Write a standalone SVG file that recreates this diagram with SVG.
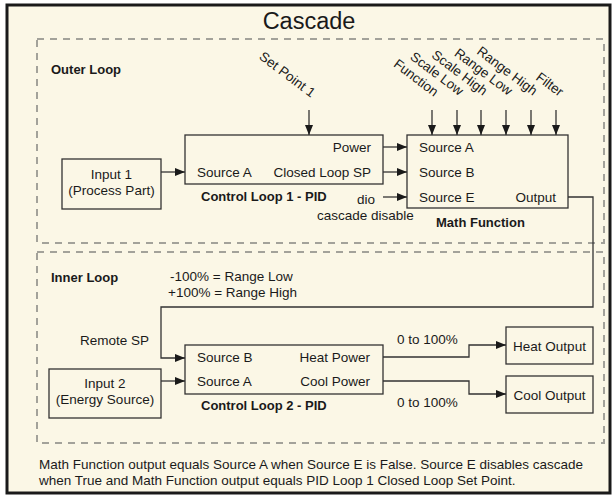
<svg xmlns="http://www.w3.org/2000/svg" width="613" height="496" viewBox="0 0 613 496">
  <style>
    text { font-family: "Liberation Sans", Arial, sans-serif; font-size: 13.5px; fill: #1a1a1a; }
    .title { font-size: 23.5px; }
    .bold { font-weight: bold; font-size: 13px; }
    .end { text-anchor: end; }
    .mid { text-anchor: middle; }
    .box { fill: #FBF7E6; stroke: #333; stroke-width: 1.3; }
    .loop { fill: none; stroke: #A3A29A; stroke-width: 2; stroke-dasharray: 7 6; }
    .wire { fill: none; stroke: #333; stroke-width: 1.3; }
  </style>
  <defs>
    <marker id="arrow" markerUnits="userSpaceOnUse" markerWidth="10" markerHeight="8" refX="10" refY="4" orient="auto">
      <path d="M0,0 L10,4 L0,8 Z" fill="#1a1a1a"/>
    </marker>
  </defs>

  <!-- page and frame -->
  <rect x="0" y="0" width="613" height="496" fill="#ffffff"/>
  <rect x="7" y="5" width="603" height="488" fill="#FBF7E6" stroke="#1a1a1a" stroke-width="3"/>
  <text class="title mid" x="309" y="29">Cascade</text>

  <!-- loop regions -->
  <g id="outer-loop">
    <rect class="loop" x="37" y="39" width="567" height="204"/>
    <text class="bold" x="51" y="74">Outer Loop</text>
  </g>
  <g id="inner-loop">
    <rect class="loop" x="37" y="252" width="567" height="191"/>
    <text class="bold" x="51" y="282">Inner Loop</text>
    <text x="170" y="281">-100% = Range Low</text>
    <text x="168" y="297">+100% = Range High</text>
  </g>

  <!-- inputs to the loops -->
  <g id="set-point-1">
    <text class="end" transform="translate(311,98) rotate(37)">Set Point 1</text>
  </g>
  <g id="math-parameters">
    <text class="end" transform="translate(434,97) rotate(37)">Function</text>
    <text class="end" transform="translate(459,96) rotate(37)">Scale Low</text>
    <text class="end" transform="translate(483,96) rotate(37)">Scale High</text>
    <text class="end" transform="translate(508,96) rotate(37)">Range Low</text>
    <text class="end" transform="translate(533,96) rotate(37)">Range High</text>
    <text class="end" transform="translate(559,97) rotate(37)">Filter</text>
  </g>

  <!-- nodes -->
  <g id="input-1">
    <rect class="box" x="62" y="159" width="99" height="50"/>
    <text class="mid" x="111.5" y="179">Input 1</text>
    <text class="mid" x="111.5" y="195">(Process Part)</text>
  </g>
  <g id="control-loop-1">
    <rect class="box" x="185" y="135" width="198" height="49"/>
    <text class="end" x="371" y="152">Power</text>
    <text x="197" y="177">Source A</text>
    <text class="end" x="371" y="177">Closed Loop SP</text>
    <text class="bold" x="201" y="201">Control Loop 1 - PID</text>
  </g>
  <g id="cascade-disable">
    <text x="357" y="204">dio</text>
    <text x="317" y="220">cascade disable</text>
  </g>
  <g id="math-function">
    <rect class="box" x="407" y="135" width="161" height="73"/>
    <text x="419" y="152">Source A</text>
    <text x="419" y="177">Source B</text>
    <text x="419" y="202">Source E</text>
    <text class="end" x="556" y="202">Output</text>
    <text class="bold" x="436" y="227">Math Function</text>
  </g>
  <g id="input-2">
    <rect class="box" x="49" y="369" width="112" height="49"/>
    <text class="mid" x="105" y="388">Input 2</text>
    <text class="mid" x="105" y="404">(Energy Source)</text>
  </g>
  <g id="control-loop-2">
    <rect class="box" x="185" y="345" width="198" height="49"/>
    <text x="197" y="362">Source B</text>
    <text class="end" x="370" y="362">Heat Power</text>
    <text x="197" y="386">Source A</text>
    <text class="end" x="370" y="386">Cool Power</text>
    <text class="bold" x="201" y="410">Control Loop 2 - PID</text>
  </g>
  <g id="heat-output">
    <rect class="box" x="506" y="327" width="87" height="37"/>
    <text class="mid" x="549.5" y="351">Heat Output</text>
  </g>
  <g id="cool-output">
    <rect class="box" x="506" y="376" width="87" height="37"/>
    <text class="mid" x="549.5" y="400">Cool Output</text>
  </g>

  <!-- connectors -->
  <g id="connectors">
    <path class="wire" d="M309,110 V135" marker-end="url(#arrow)"/>
    <path class="wire" d="M432,110 V135" marker-end="url(#arrow)"/>
    <path class="wire" d="M457,110 V135" marker-end="url(#arrow)"/>
    <path class="wire" d="M481,110 V135" marker-end="url(#arrow)"/>
    <path class="wire" d="M506,110 V135" marker-end="url(#arrow)"/>
    <path class="wire" d="M531,110 V135" marker-end="url(#arrow)"/>
    <path class="wire" d="M556,110 V135" marker-end="url(#arrow)"/>
    <path class="wire" d="M161,172 H185" marker-end="url(#arrow)"/>
    <path class="wire" d="M383,147 H407" marker-end="url(#arrow)"/>
    <path class="wire" d="M383,172 H407" marker-end="url(#arrow)"/>
    <path class="wire" d="M383,197 H407" marker-end="url(#arrow)"/>
    <path class="wire" d="M568,197 H593 V307 H161 V358 H185" marker-end="url(#arrow)"/>
    <path class="wire" d="M161,381 H185" marker-end="url(#arrow)"/>
    <path class="wire" d="M383,357 H469 V345 H506" marker-end="url(#arrow)"/>
    <path class="wire" d="M383,381 H469 V394 H506" marker-end="url(#arrow)"/>
    <text x="397" y="344">0 to 100%</text>
    <text x="397" y="407">0 to 100%</text>
    <text x="80" y="345">Remote SP</text>
  </g>

  <!-- note -->
  <g id="note">
    <text x="39" y="469">Math Function output equals Source A when Source E is False. Source E disables cascade</text>
    <text x="39" y="485">when True and Math Function output equals PID Loop 1 Closed Loop Set Point.</text>
  </g>
</svg>
